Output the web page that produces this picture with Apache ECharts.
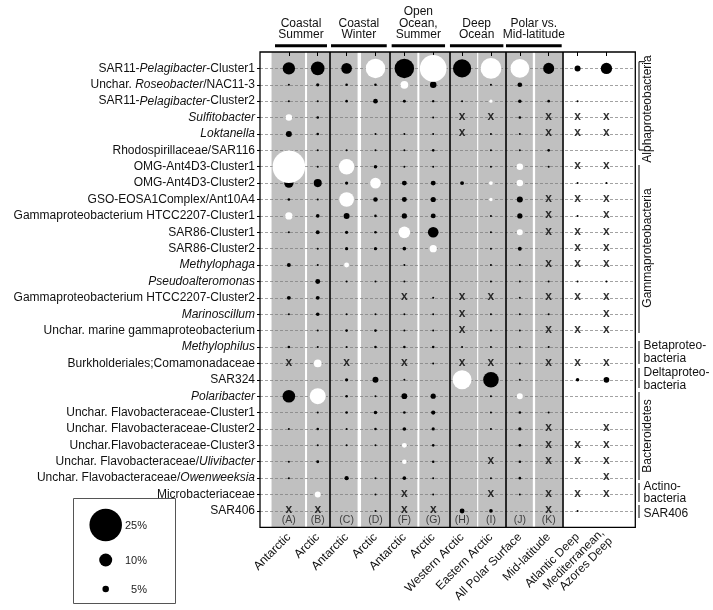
<!DOCTYPE html>
<html>
<head>
<meta charset="utf-8">
<script src="https://cdn.jsdelivr.net/npm/echarts@6/dist/echarts.min.js"></script>
<style>html,body{margin:0;padding:0;background:#fff;}#c{width:713px;height:610px;}</style>
</head>
<body>
<div id="c"></div>
<script>
// ---- Data ----
const rowLabels = [
  'SAR11-{i|Pelagibacter}-Cluster1',
  'Unchar. {i|Roseobacter}/NAC11-3',
  'SAR11-{i|Pelagibacter}-Cluster2',
  '{i|Sulfitobacter}',
  '{i|Loktanella}',
  'Rhodospirillaceae/SAR116',
  'OMG-Ant4D3-Cluster1',
  'OMG-Ant4D3-Cluster2',
  'GSO-EOSA1Complex/Ant10A4',
  'Gammaproteobacterium HTCC2207-Cluster1',
  'SAR86-Cluster1',
  'SAR86-Cluster2',
  '{i|Methylophaga}',
  '{i|Pseudoalteromonas}',
  'Gammaproteobacterium HTCC2207-Cluster2',
  '{i|Marinoscillum}',
  'Unchar. marine gammaproteobacterium',
  '{i|Methylophilus}',
  'Burkholderiales;Comamonadaceae',
  'SAR324',
  '{i|Polaribacter}',
  'Unchar. Flavobacteraceae-Cluster1',
  'Unchar. Flavobacteraceae-Cluster2',
  'Unchar.Flavobacteraceae-Cluster3',
  'Unchar. Flavobacteraceae/{i|Ulivibacter}',
  'Unchar. Flavobacteraceae/{i|Owenweeksia}',
  'Microbacteriaceae',
  'SAR406'
];
const colLabels = ['Antarctic','Arctic','Antarctic','Arctic','Antarctic','Arctic','Western Arctic','Eastern Arctic','All Polar Surface','Mid-latitude','Atlantic Deep','Mediterranean,\nAzores Deep'];
const colLetters = ['(A)','(B)','(C)','(D)','(F)','(G)','(H)','(I)','(J)','(K)','',''];
const groupHeaders = ['Coastal\nSummer','Coastal\nWinter','Open\nOcean,\nSummer','Deep\nOcean','Polar vs.\nMid-latitude'];
const taxonGroups = ['Alphaproteobacteria','Gammaproteobacteria','Betaproteo-\nbacteria','Deltaproteo-\nbacteria','Bacteroidetes','Actino-\nbacteria','SAR406'];
const legendValues = [25, 10, 5];
// value in % : positive = black circle, negative = white circle, 'x' = cross, null = none
const colA   = [9.5,1.5,1.5,-5,4.6,null,-25,7.2,2,-5.6,1.5,null,3,null,3,1.5,null,2,'x',null,9.7,null,1.5,null,1.5,1.5,null,'x'];
const colB   = [10.5,2.5,1.5,2,2,1.5,1.5,6.2,1.5,2.8,3,1.5,1.5,3.8,3,2.8,1.5,1.5,-5.9,null,-12.3,1.5,2,1.5,2.3,null,-4.6,'x'];
const colC   = [8.2,2,2,null,null,1.5,-11.8,2.5,-11.3,4.6,2.5,2.5,-3.8,1.5,null,1.5,2,1.5,'x',2.5,2,2,1.5,1.5,null,3.3,null,null];
const colD   = [-15,2,3.6,null,1.5,1.5,2.7,-8.2,3.5,2,2,2.5,null,1.5,null,1.5,2,2,null,4.6,1.5,2.7,2,1.5,null,1.5,1.5,1.5];
const colF   = [15,-6,2.3,null,1.5,1.5,1.5,3.8,3.8,4,-9,2.8,1.5,1.5,'x',1.5,1.5,2,'x',1.5,4.4,2,2.8,-3.8,-3.5,2.8,'x','x'];
const colG   = [-20.5,5,1.8,1.5,1.5,2,1.5,3.8,4,3.8,8.2,-5.6,null,null,1.5,1.5,1.5,2,1.5,null,4,3.3,2.5,2,2,1.5,1.5,'x'];
const colH   = [14,null,1.5,'x','x',null,null,3,null,null,null,null,null,null,'x','x','x',1.5,'x',-14.6,null,null,null,null,null,null,null,3.8];
const colI   = [-16,1.5,-2.5,'x',1.5,1.5,1.5,-3,-2.7,1.5,1.5,1.5,1.5,1.5,'x',1.5,1.5,1.5,'x',12,1.5,1.5,1.5,null,'x',1.2,'x',2.8];
const colJ   = [-14.4,3.6,2.7,2,1.5,1.5,-5,-5,4.6,4,-4.6,3,1.5,1.5,1.2,1.5,1.5,1.5,1.5,1.5,-4.6,2,2.5,2,2,2,1.5,null];
const colK   = [8.5,null,2,'x','x',2,1.2,null,'x','x','x',null,'x',1.5,'x',1.2,'x',1.5,'x',null,null,1.5,'x','x','x',null,'x','x'];
const colAtl = [4.6,null,1.2,'x','x',null,'x',1.2,'x',1.2,'x','x','x',1.2,'x',null,'x',null,'x',2.7,null,null,null,'x','x',null,'x',1.5];
const colMed = [8.7,null,null,'x','x',null,'x',1.2,'x','x','x','x','x',1.2,'x','x','x',null,'x',4.4,null,null,'x','x','x','x','x',null];

const columns = [colA,colB,colC,colD,colF,colG,colH,colI,colJ,colK,colAtl,colMed];

// ---- Build ----
const FONT = '"Liberation Sans", Arial, sans-serif';
const sizeOf = v => Math.max(2, 1.3 * v);
const black = [], white = [], crosses = [];
columns.forEach((col, ci) => col.forEach((v, ri) => {
  if (v === 'x') crosses.push([ci + 1, ri + 1]);
  else if (typeof v === 'number' && v > 0) black.push([ci + 1, ri + 1, v]);
  else if (typeof v === 'number' && v < 0) white.push([ci + 1, ri + 1, -v]);
}));
const rowIdx = rowLabels.map((_, i) => i + 1);
const colIdx = colLabels.map((_, i) => i + 1);
const letters = colLetters.map((t, i) => [i + 1, 28.57, t]).filter(d => d[2]);

const grayBands = [[0.40,1.56],[1.63,2.40],[2.40,3.38],[3.50,4.50],[4.50,5.45],[5.52,6.56],[6.56,7.52],[7.56,8.51],[8.51,9.45],[9.53,10.47]];
const separators = [2.40, 4.50, 6.56, 8.51, 10.47];
const headerSpans = [[0.52,2.32],[2.46,4.39],[4.56,6.41],[6.58,8.43],[8.52,10.45]];

const chart = echarts.init(document.getElementById('c'), null, {renderer:'canvas'});
const option = {
  animation: false,
  backgroundColor: '#fff',
  grid: {left: 260, right: 77.7, top: 52, bottom: 82.7, show: true, backgroundColor: 'transparent', borderColor: '#000', borderWidth: 1.3, z: 6},
  xAxis: {
    type: 'value', min: 0, max: 13, interval: 1, z: 3,
    axisLine: {show: false},
    axisTick: {show: true, length: 4, customValues: colIdx, lineStyle: {color: '#000', width: 1}},
    axisLabel: {customValues: colIdx, rotate: 45, margin: 8, fontSize: 12, color: '#111', fontFamily: FONT,
      formatter: v => colLabels[v - 1] || ''},
    splitLine: {show: false}
  },
  yAxis: {
    type: 'value', min: 0, max: 29, interval: 1, inverse: true, z: 3,
    axisLine: {show: false},
    axisTick: {show: true, length: 3, customValues: rowIdx, lineStyle: {color: '#000'}},
    axisLabel: {customValues: rowIdx, margin: 5, fontSize: 12, color: '#111', fontFamily: FONT,
      formatter: v => rowLabels[v - 1] || '',
      rich: {i: {fontStyle: 'italic', fontSize: 12, color: '#111', fontFamily: FONT}}},
    splitLine: {show: true, lineStyle: {color: '#7a7a7a', type: [3, 2], width: 0.7}}
  },
  series: [
    {type: 'scatter', data: [], z: 1, silent: true,
     markArea: {silent: true, itemStyle: {color: '#c0c0c0'},
       data: grayBands.map(b => [{xAxis: b[0]}, {xAxis: b[1]}])}},
    {type: 'scatter', data: [], z: 4, silent: true,
     markLine: {silent: true, symbol: 'none', label: {show: false}, lineStyle: {color: '#000', type: 'solid', width: 1.6},
       data: separators.map(s => ({xAxis: s}))}},
    {type: 'scatter', name: 'black', data: black, z: 5, symbolSize: d => sizeOf(d[2]), itemStyle: {color: '#000', opacity: 1}},
    {type: 'scatter', name: 'white', data: white, z: 5, symbolSize: d => sizeOf(d[2]), itemStyle: {color: '#fff', opacity: 1}},
    {type: 'scatter', name: 'cross', data: crosses, z: 5, symbolSize: 1, itemStyle: {color: 'rgba(0,0,0,0)'},
     label: {show: true, position: 'inside', formatter: 'x', fontSize: 12, fontWeight: 'bold', color: '#000', fontFamily: FONT, offset: [0, -1]}},
    {type: 'scatter', name: 'letters', data: letters, z: 5, symbolSize: 1, itemStyle: {color: 'rgba(0,0,0,0)'},
     label: {show: true, position: 'inside', formatter: p => p.data[2], fontSize: 10.5, color: '#1a1a1a', fontFamily: FONT}}
  ]
};
chart.setOption(option);

const px = x => chart.convertToPixel({gridIndex: 0}, [x, 0])[0];
const graphics = [];
headerSpans.forEach((s, i) => {
  const x1 = px(s[0]), x2 = px(s[1]);
  graphics.push({type: 'rect', silent: true, shape: {x: x1, y: 44.2, width: x2 - x1, height: 3}, style: {fill: '#000'}});
  graphics.push({type: 'text', silent: true, x: (x1 + x2) / 2, y: 41,
    style: {text: groupHeaders[i], font: '12px ' + FONT, fill: '#111', align: 'center', verticalAlign: 'bottom', textAlign: 'center', textVerticalAlign: 'bottom', lineHeight: 11.8}});
});
// right-side taxon brackets (pixel layout)
const BX = 639;
const bracketLayout = [
  {y1: 61.7, y2: 150, ty: 109, rot: true, serif: true},
  {y1: 165, y2: 333, ty: 248, rot: true},
  {y1: 341, y2: 364, ty: 352.2},
  {y1: 368, y2: 388, ty: 379.2},
  {y1: 392, y2: 480, ty: 436, rot: true},
  {y1: 483, y2: 502, ty: 492.5},
  {y1: 505, y2: 518, ty: 513.3}
];
bracketLayout.forEach((b, i) => {
  graphics.push({type: 'line', silent: true, shape: {x1: BX, y1: b.y1, x2: BX, y2: b.y2}, style: {stroke: '#000', lineWidth: 1}});
  if (b.serif) {
    graphics.push({type: 'line', silent: true, shape: {x1: BX, y1: b.y1, x2: BX + 6, y2: b.y1}, style: {stroke: '#000', lineWidth: 1}});
    graphics.push({type: 'line', silent: true, shape: {x1: BX, y1: b.y2, x2: BX + 6, y2: b.y2}, style: {stroke: '#000', lineWidth: 1}});
  }
  if (b.rot) {
    graphics.push({type: 'text', silent: true, x: 647.7, y: b.ty, rotation: Math.PI / 2,
      style: {text: taxonGroups[i], font: '12px ' + FONT, fill: '#111', align: 'center', verticalAlign: 'middle', textAlign: 'center', textVerticalAlign: 'middle'}});
  } else {
    graphics.push({type: 'text', silent: true, x: 643.5, y: b.ty,
      style: {text: taxonGroups[i], font: '12px ' + FONT, fill: '#111', align: 'left', verticalAlign: 'middle', textAlign: 'left', textVerticalAlign: 'middle', lineHeight: 12.3}});
  }
});
// size legend
graphics.push({type: 'rect', silent: true, shape: {x: 73.5, y: 498.5, width: 102, height: 105}, style: {fill: '#fff', stroke: '#555', lineWidth: 1}});
const legY = [525, 560, 589];
legendValues.forEach((v, i) => {
  graphics.push({type: 'circle', silent: true, shape: {cx: 105.7, cy: legY[i], r: sizeOf(v) / 2}, style: {fill: '#000'}});
  graphics.push({type: 'text', silent: true, x: 147, y: legY[i] + 1,
    style: {text: v + '%', font: '11px ' + FONT, fill: '#222', align: 'right', verticalAlign: 'middle', textAlign: 'right', textVerticalAlign: 'middle'}});
});
chart.setOption({graphic: graphics});
</script>
</body>
</html>
